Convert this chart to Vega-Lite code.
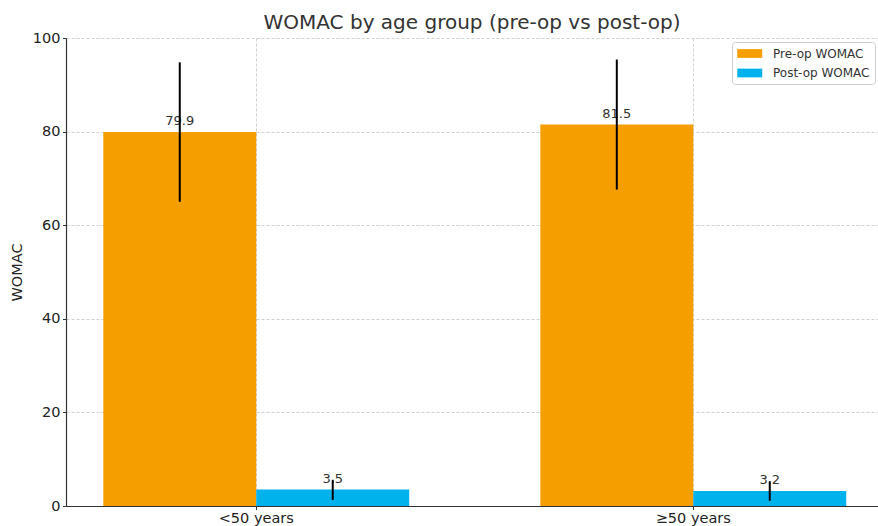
{
  "$schema": "https://vega.github.io/schema/vega-lite/v6.json",
  "autosize": {"type": "none"},
  "padding": {"left": 66, "top": 38, "right": 0, "bottom": 20},
  "width": 812,
  "height": 468,
  "title": {"text": "WOMAC by age group (pre-op vs post-op)", "fontSize": 20, "font": "DejaVu Sans", "fontWeight": "normal", "color": "#333333", "offset": -3, "anchor": "middle"},
  "config": {
    "view": {"stroke": null},
    "font": "DejaVu Sans",
    "axis": {"labelFont": "DejaVu Sans", "titleFont": "DejaVu Sans", "labelColor": "#222222", "titleColor": "#222222", "domainColor": "#333333", "tickColor": "#333333", "gridColor": "#c4c4c4", "gridDash": [3, 2], "gridWidth": 0.8}
  },
  "data": {
    "values": [
      {"group": "<50 years", "series": "Pre-op WOMAC", "value": 79.9, "lo": 65.0, "hi": 94.8},
      {"group": "<50 years", "series": "Post-op WOMAC", "value": 3.5, "lo": 1.3, "hi": 5.6},
      {"group": "≥50 years", "series": "Pre-op WOMAC", "value": 81.5, "lo": 67.6, "hi": 95.4},
      {"group": "≥50 years", "series": "Post-op WOMAC", "value": 3.2, "lo": 1.1, "hi": 5.3}
    ]
  },
  "encoding": {
    "x": {
      "field": "group", "type": "nominal", "sort": ["<50 years", "≥50 years"],
      "scale": {"paddingInner": 0.3, "paddingOuter": 0.079, "align": 0.54},
      "axis": {"title": null, "labelAngle": 0, "labelFontSize": 14.5, "labelPadding": 1.5, "tickSize": 3.5, "grid": true, "bandPosition": 0.5, "domainWidth": 1.2}
    },
    "xOffset": {"field": "series", "type": "nominal", "sort": ["Pre-op WOMAC", "Post-op WOMAC"], "scale": {"paddingInner": 0, "paddingOuter": 0}}
  },
  "layer": [
    {
      "mark": {"type": "bar"},
      "encoding": {
        "y": {"field": "value", "type": "quantitative", "scale": {"domain": [0, 100], "nice": false},
          "axis": {"title": "WOMAC", "titleFontSize": 14.5, "titleFontWeight": "normal", "labelFontSize": 14.5, "values": [0, 20, 40, 60, 80, 100], "tickSize": 3.5, "labelPadding": 2.5, "titlePadding": 8, "domainWidth": 1.2, "grid": true}},
        "color": {"field": "series", "type": "nominal", "sort": ["Pre-op WOMAC", "Post-op WOMAC"],
          "scale": {"domain": ["Pre-op WOMAC", "Post-op WOMAC"], "range": ["#F59E00", "#00B2EC"]},
          "legend": {"title": null, "orient": "none", "legendX": 666, "legendY": 4, "labelFontSize": 12, "labelColor": "#333333", "symbolType": "M-1,-0.7h4v1.4h-4z", "symbolSize": 156, "symbolStrokeWidth": 0, "fillColor": "white", "strokeColor": "#cccccc", "cornerRadius": 3, "padding": 5, "rowPadding": 6.5, "labelOffset": 23}
        }
      }
    },
    {
      "mark": {"type": "text", "baseline": "bottom", "dy": -4, "fontSize": 13, "color": "#333333"},
      "encoding": {
        "y": {"field": "value", "type": "quantitative"},
        "text": {"field": "value", "type": "quantitative", "format": ".1f"}
      }
    },
    {
      "mark": {"type": "rule", "color": "black", "strokeWidth": 2},
      "encoding": {
        "y": {"field": "lo", "type": "quantitative"},
        "y2": {"field": "hi"}
      }
    }
  ]
}
